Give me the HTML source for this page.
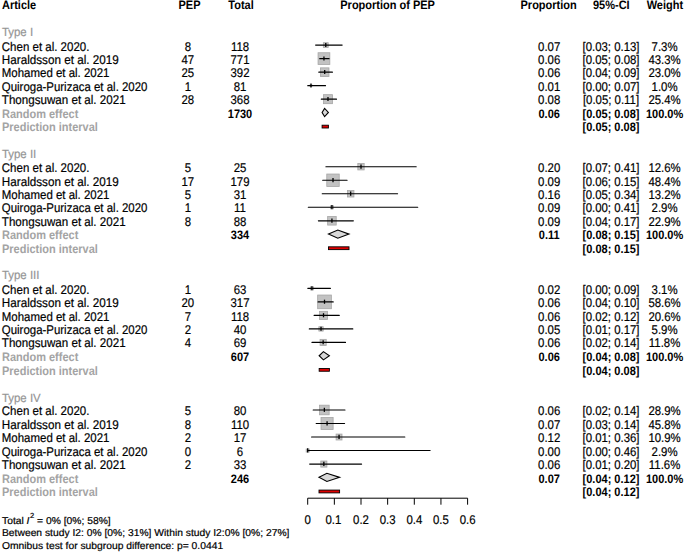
<!DOCTYPE html>
<html><head><meta charset="utf-8"><style>
html,body{margin:0;padding:0;background:#fff;}
svg{display:block;}
text{font-family:"Liberation Sans",sans-serif;text-rendering:geometricPrecision;}
</style></head><body>
<svg width="685" height="553" viewBox="0 0 685 553">
<rect width="685" height="553" fill="#fff"/>
<rect x="323.35" y="42.70" width="4.84" height="4.84" fill="#c2c2c2" stroke="#a6a6a6" stroke-width="0.8"/>
<line x1="315.62" y1="45.11" x2="342.14" y2="45.11" stroke="#000" stroke-width="1.15" stroke-linecap="round"/>
<line x1="325.77" y1="42.91" x2="325.77" y2="47.01" stroke="#000" stroke-width="1.3"/>
<rect x="318.06" y="52.74" width="11.78" height="11.78" fill="#c2c2c2" stroke="#a6a6a6" stroke-width="0.8"/>
<line x1="319.73" y1="58.63" x2="329.08" y2="58.63" stroke="#000" stroke-width="1.15" stroke-linecap="round"/>
<line x1="323.95" y1="56.43" x2="323.95" y2="60.53" stroke="#000" stroke-width="1.3"/>
<rect x="320.40" y="67.85" width="8.58" height="8.58" fill="#c2c2c2" stroke="#a6a6a6" stroke-width="0.8"/>
<line x1="318.81" y1="72.14" x2="332.41" y2="72.14" stroke="#000" stroke-width="1.15" stroke-linecap="round"/>
<line x1="324.70" y1="69.94" x2="324.70" y2="74.04" stroke="#000" stroke-width="1.3"/>
<rect x="310.10" y="84.76" width="1.79" height="1.79" fill="#c2c2c2" stroke="#a6a6a6" stroke-width="0.8"/>
<line x1="307.78" y1="85.66" x2="325.52" y2="85.66" stroke="#000" stroke-width="1.15" stroke-linecap="round"/>
<line x1="310.99" y1="83.46" x2="310.99" y2="87.56" stroke="#000" stroke-width="1.3"/>
<rect x="323.47" y="94.66" width="9.02" height="9.02" fill="#c2c2c2" stroke="#a6a6a6" stroke-width="0.8"/>
<line x1="321.33" y1="99.17" x2="336.51" y2="99.17" stroke="#000" stroke-width="1.15" stroke-linecap="round"/>
<line x1="327.98" y1="96.97" x2="327.98" y2="101.07" stroke="#000" stroke-width="1.3"/>
<polygon points="322.09,112.48 324.60,108.38 328.41,112.48 324.60,116.58" fill="#d8d8d8" stroke="#000" stroke-width="1.1"/>
<rect x="322.09" y="125.20" width="6.32" height="2.8" fill="#e00000" stroke="#000" stroke-width="0.9"/>
<rect x="357.82" y="163.56" width="6.35" height="6.35" fill="#c2c2c2" stroke="#a6a6a6" stroke-width="0.8"/>
<line x1="325.91" y1="166.74" x2="416.18" y2="166.74" stroke="#000" stroke-width="1.15" stroke-linecap="round"/>
<line x1="361.00" y1="164.54" x2="361.00" y2="168.64" stroke="#000" stroke-width="1.3"/>
<rect x="326.78" y="174.03" width="12.45" height="12.45" fill="#c2c2c2" stroke="#a6a6a6" stroke-width="0.8"/>
<line x1="322.70" y1="180.25" x2="347.06" y2="180.25" stroke="#000" stroke-width="1.15" stroke-linecap="round"/>
<line x1="333.01" y1="178.05" x2="333.01" y2="182.15" stroke="#000" stroke-width="1.3"/>
<rect x="347.43" y="190.52" width="6.50" height="6.50" fill="#c2c2c2" stroke="#a6a6a6" stroke-width="0.8"/>
<line x1="322.23" y1="193.77" x2="397.58" y2="193.77" stroke="#000" stroke-width="1.15" stroke-linecap="round"/>
<line x1="350.68" y1="191.57" x2="350.68" y2="195.67" stroke="#000" stroke-width="1.3"/>
<rect x="330.40" y="205.76" width="3.05" height="3.05" fill="#c2c2c2" stroke="#a6a6a6" stroke-width="0.8"/>
<line x1="308.31" y1="207.28" x2="417.71" y2="207.28" stroke="#000" stroke-width="1.15" stroke-linecap="round"/>
<line x1="331.93" y1="205.08" x2="331.93" y2="209.18" stroke="#000" stroke-width="1.3"/>
<rect x="327.64" y="216.51" width="8.57" height="8.57" fill="#c2c2c2" stroke="#a6a6a6" stroke-width="0.8"/>
<line x1="318.38" y1="220.80" x2="353.35" y2="220.80" stroke="#000" stroke-width="1.15" stroke-linecap="round"/>
<line x1="331.93" y1="218.60" x2="331.93" y2="222.70" stroke="#000" stroke-width="1.3"/>
<polygon points="328.49,234.11 337.81,230.01 349.01,234.11 337.81,238.21" fill="#d8d8d8" stroke="#000" stroke-width="1.1"/>
<rect x="328.49" y="246.82" width="20.52" height="2.8" fill="#e00000" stroke="#000" stroke-width="0.9"/>
<rect x="310.35" y="286.79" width="3.15" height="3.15" fill="#c2c2c2" stroke="#a6a6a6" stroke-width="0.8"/>
<line x1="307.81" y1="288.37" x2="330.43" y2="288.37" stroke="#000" stroke-width="1.15" stroke-linecap="round"/>
<line x1="311.93" y1="286.17" x2="311.93" y2="290.27" stroke="#000" stroke-width="1.3"/>
<rect x="317.66" y="295.03" width="13.70" height="13.70" fill="#c2c2c2" stroke="#a6a6a6" stroke-width="0.8"/>
<line x1="318.08" y1="301.88" x2="333.22" y2="301.88" stroke="#000" stroke-width="1.15" stroke-linecap="round"/>
<line x1="324.51" y1="299.68" x2="324.51" y2="303.78" stroke="#000" stroke-width="1.3"/>
<rect x="319.45" y="311.33" width="8.12" height="8.12" fill="#c2c2c2" stroke="#a6a6a6" stroke-width="0.8"/>
<line x1="314.14" y1="315.39" x2="339.26" y2="315.39" stroke="#000" stroke-width="1.15" stroke-linecap="round"/>
<line x1="323.51" y1="313.19" x2="323.51" y2="317.29" stroke="#000" stroke-width="1.3"/>
<rect x="318.85" y="326.73" width="4.35" height="4.35" fill="#c2c2c2" stroke="#a6a6a6" stroke-width="0.8"/>
<line x1="309.33" y1="328.91" x2="352.79" y2="328.91" stroke="#000" stroke-width="1.15" stroke-linecap="round"/>
<line x1="321.02" y1="326.71" x2="321.02" y2="330.81" stroke="#000" stroke-width="1.3"/>
<rect x="320.07" y="339.35" width="6.15" height="6.15" fill="#c2c2c2" stroke="#a6a6a6" stroke-width="0.8"/>
<line x1="311.97" y1="342.42" x2="345.50" y2="342.42" stroke="#000" stroke-width="1.15" stroke-linecap="round"/>
<line x1="323.15" y1="340.22" x2="323.15" y2="344.32" stroke="#000" stroke-width="1.3"/>
<polygon points="319.16,355.74 323.42,351.64 329.39,355.74 323.42,359.84" fill="#d8d8d8" stroke="#000" stroke-width="1.1"/>
<rect x="319.16" y="368.45" width="10.23" height="2.8" fill="#e00000" stroke="#000" stroke-width="0.9"/>
<rect x="319.54" y="405.18" width="9.62" height="9.62" fill="#c2c2c2" stroke="#a6a6a6" stroke-width="0.8"/>
<line x1="313.19" y1="409.99" x2="344.97" y2="409.99" stroke="#000" stroke-width="1.15" stroke-linecap="round"/>
<line x1="324.36" y1="407.79" x2="324.36" y2="411.89" stroke="#000" stroke-width="1.3"/>
<rect x="321.02" y="417.45" width="12.11" height="12.11" fill="#c2c2c2" stroke="#a6a6a6" stroke-width="0.8"/>
<line x1="316.21" y1="423.51" x2="344.55" y2="423.51" stroke="#000" stroke-width="1.15" stroke-linecap="round"/>
<line x1="327.08" y1="421.31" x2="327.08" y2="425.41" stroke="#000" stroke-width="1.3"/>
<rect x="336.10" y="434.07" width="5.91" height="5.91" fill="#c2c2c2" stroke="#a6a6a6" stroke-width="0.8"/>
<line x1="311.59" y1="437.02" x2="404.82" y2="437.02" stroke="#000" stroke-width="1.15" stroke-linecap="round"/>
<line x1="339.05" y1="434.82" x2="339.05" y2="438.92" stroke="#000" stroke-width="1.3"/>
<rect x="306.18" y="449.01" width="3.05" height="3.05" fill="#c2c2c2" stroke="#a6a6a6" stroke-width="0.8"/>
<line x1="307.70" y1="450.53" x2="430.09" y2="450.53" stroke="#000" stroke-width="1.15" stroke-linecap="round"/>
<line x1="307.70" y1="448.33" x2="307.70" y2="452.43" stroke="#000" stroke-width="1.3"/>
<rect x="320.80" y="461.00" width="6.10" height="6.10" fill="#c2c2c2" stroke="#a6a6a6" stroke-width="0.8"/>
<line x1="309.68" y1="464.05" x2="361.60" y2="464.05" stroke="#000" stroke-width="1.15" stroke-linecap="round"/>
<line x1="323.85" y1="461.85" x2="323.85" y2="465.95" stroke="#000" stroke-width="1.3"/>
<polygon points="319.00,477.36 326.89,473.26 339.60,477.36 326.89,481.46" fill="#d8d8d8" stroke="#000" stroke-width="1.1"/>
<rect x="319.00" y="490.08" width="20.60" height="2.8" fill="#e00000" stroke="#000" stroke-width="0.9"/>
<line x1="307.70" y1="498.2" x2="467.60" y2="498.2" stroke="#000" stroke-width="1"/>
<line x1="307.70" y1="498.2" x2="307.70" y2="504.7" stroke="#000" stroke-width="1"/>
<line x1="334.35" y1="498.2" x2="334.35" y2="504.7" stroke="#000" stroke-width="1"/>
<line x1="361.00" y1="498.2" x2="361.00" y2="504.7" stroke="#000" stroke-width="1"/>
<line x1="387.65" y1="498.2" x2="387.65" y2="504.7" stroke="#000" stroke-width="1"/>
<line x1="414.30" y1="498.2" x2="414.30" y2="504.7" stroke="#000" stroke-width="1"/>
<line x1="440.95" y1="498.2" x2="440.95" y2="504.7" stroke="#000" stroke-width="1"/>
<line x1="467.60" y1="498.2" x2="467.60" y2="504.7" stroke="#000" stroke-width="1"/>
<text transform="translate(2.00,9.00) scale(0.9016,1)" text-anchor="start" font-size="12.20" font-weight="bold" fill="#000">Article</text>
<text transform="translate(189.50,9.00) scale(0.9016,1)" text-anchor="middle" font-size="12.20" font-weight="bold" fill="#000">PEP</text>
<text transform="translate(241.00,9.00) scale(0.9016,1)" text-anchor="middle" font-size="12.20" font-weight="bold" fill="#000">Total</text>
<text transform="translate(387.60,9.00) scale(0.9016,1)" text-anchor="middle" font-size="12.20" font-weight="bold" fill="#000">Proportion of PEP</text>
<text transform="translate(548.60,9.00) scale(0.9016,1)" text-anchor="middle" font-size="12.20" font-weight="bold" fill="#000">Proportion</text>
<text transform="translate(611.30,9.00) scale(0.9016,1)" text-anchor="middle" font-size="12.20" font-weight="bold" fill="#000">95%-CI</text>
<text transform="translate(664.90,9.00) scale(0.9016,1)" text-anchor="middle" font-size="12.20" font-weight="bold" fill="#000">Weight</text>
<text transform="translate(2.00,36.00) scale(0.9500,1)" text-anchor="start" font-size="12.00" font-weight="normal" fill="#959595" stroke="#959595" stroke-width="0.2">Type I</text>
<text transform="translate(1.80,51.00) scale(0.9131,1)" text-anchor="start" font-size="12.60" font-weight="normal" fill="#000" stroke="#000" stroke-width="0.2">Chen et al. 2020.</text>
<text transform="translate(187.80,51.00) scale(0.9048,1)" text-anchor="middle" font-size="12.60" font-weight="normal" fill="#000" stroke="#000" stroke-width="0.2">8</text>
<text transform="translate(240.00,51.00) scale(0.9048,1)" text-anchor="middle" font-size="12.60" font-weight="normal" fill="#000" stroke="#000" stroke-width="0.2">118</text>
<text transform="translate(549.20,51.00) scale(0.9048,1)" text-anchor="middle" font-size="12.60" font-weight="normal" fill="#000" stroke="#000" stroke-width="0.2">0.07</text>
<text transform="translate(611.00,51.00) scale(0.9048,1)" text-anchor="middle" font-size="12.60" font-weight="normal" fill="#000" stroke="#000" stroke-width="0.2">[0.03; 0.13]</text>
<text transform="translate(664.60,51.00) scale(0.9048,1)" text-anchor="middle" font-size="12.60" font-weight="normal" fill="#000" stroke="#000" stroke-width="0.2">7.3%</text>
<text transform="translate(1.80,64.00) scale(0.9286,1)" text-anchor="start" font-size="12.60" font-weight="normal" fill="#000" stroke="#000" stroke-width="0.2">Haraldsson et al. 2019</text>
<text transform="translate(187.80,64.00) scale(0.9048,1)" text-anchor="middle" font-size="12.60" font-weight="normal" fill="#000" stroke="#000" stroke-width="0.2">47</text>
<text transform="translate(240.00,64.00) scale(0.9048,1)" text-anchor="middle" font-size="12.60" font-weight="normal" fill="#000" stroke="#000" stroke-width="0.2">771</text>
<text transform="translate(549.20,64.00) scale(0.9048,1)" text-anchor="middle" font-size="12.60" font-weight="normal" fill="#000" stroke="#000" stroke-width="0.2">0.06</text>
<text transform="translate(611.00,64.00) scale(0.9048,1)" text-anchor="middle" font-size="12.60" font-weight="normal" fill="#000" stroke="#000" stroke-width="0.2">[0.05; 0.08]</text>
<text transform="translate(664.60,64.00) scale(0.9048,1)" text-anchor="middle" font-size="12.60" font-weight="normal" fill="#000" stroke="#000" stroke-width="0.2">43.3%</text>
<text transform="translate(1.80,77.00) scale(0.9098,1)" text-anchor="start" font-size="12.60" font-weight="normal" fill="#000" stroke="#000" stroke-width="0.2">Mohamed et al. 2021</text>
<text transform="translate(187.80,77.00) scale(0.9048,1)" text-anchor="middle" font-size="12.60" font-weight="normal" fill="#000" stroke="#000" stroke-width="0.2">25</text>
<text transform="translate(240.00,77.00) scale(0.9048,1)" text-anchor="middle" font-size="12.60" font-weight="normal" fill="#000" stroke="#000" stroke-width="0.2">392</text>
<text transform="translate(549.20,77.00) scale(0.9048,1)" text-anchor="middle" font-size="12.60" font-weight="normal" fill="#000" stroke="#000" stroke-width="0.2">0.06</text>
<text transform="translate(611.00,77.00) scale(0.9048,1)" text-anchor="middle" font-size="12.60" font-weight="normal" fill="#000" stroke="#000" stroke-width="0.2">[0.04; 0.09]</text>
<text transform="translate(664.60,77.00) scale(0.9048,1)" text-anchor="middle" font-size="12.60" font-weight="normal" fill="#000" stroke="#000" stroke-width="0.2">23.0%</text>
<text transform="translate(1.80,91.00) scale(0.9085,1)" text-anchor="start" font-size="12.60" font-weight="normal" fill="#000" stroke="#000" stroke-width="0.2">Quiroga-Purizaca et al. 2020</text>
<text transform="translate(187.80,91.00) scale(0.9048,1)" text-anchor="middle" font-size="12.60" font-weight="normal" fill="#000" stroke="#000" stroke-width="0.2">1</text>
<text transform="translate(240.00,91.00) scale(0.9048,1)" text-anchor="middle" font-size="12.60" font-weight="normal" fill="#000" stroke="#000" stroke-width="0.2">81</text>
<text transform="translate(549.20,91.00) scale(0.9048,1)" text-anchor="middle" font-size="12.60" font-weight="normal" fill="#000" stroke="#000" stroke-width="0.2">0.01</text>
<text transform="translate(611.00,91.00) scale(0.9048,1)" text-anchor="middle" font-size="12.60" font-weight="normal" fill="#000" stroke="#000" stroke-width="0.2">[0.00; 0.07]</text>
<text transform="translate(664.60,91.00) scale(0.9048,1)" text-anchor="middle" font-size="12.60" font-weight="normal" fill="#000" stroke="#000" stroke-width="0.2">1.0%</text>
<text transform="translate(1.80,104.00) scale(0.9211,1)" text-anchor="start" font-size="12.60" font-weight="normal" fill="#000" stroke="#000" stroke-width="0.2">Thongsuwan et al. 2021</text>
<text transform="translate(187.80,104.00) scale(0.9048,1)" text-anchor="middle" font-size="12.60" font-weight="normal" fill="#000" stroke="#000" stroke-width="0.2">28</text>
<text transform="translate(240.00,104.00) scale(0.9048,1)" text-anchor="middle" font-size="12.60" font-weight="normal" fill="#000" stroke="#000" stroke-width="0.2">368</text>
<text transform="translate(549.20,104.00) scale(0.9048,1)" text-anchor="middle" font-size="12.60" font-weight="normal" fill="#000" stroke="#000" stroke-width="0.2">0.08</text>
<text transform="translate(611.00,104.00) scale(0.9048,1)" text-anchor="middle" font-size="12.60" font-weight="normal" fill="#000" stroke="#000" stroke-width="0.2">[0.05; 0.11]</text>
<text transform="translate(664.60,104.00) scale(0.9048,1)" text-anchor="middle" font-size="12.60" font-weight="normal" fill="#000" stroke="#000" stroke-width="0.2">25.4%</text>
<text transform="translate(2.00,118.00) scale(0.9016,1)" text-anchor="start" font-size="12.20" font-weight="bold" fill="#a4a4a4">Random effect</text>
<text transform="translate(240.00,118.00) scale(0.9016,1)" text-anchor="middle" font-size="12.20" font-weight="bold" fill="#000">1730</text>
<text transform="translate(549.20,118.00) scale(0.9016,1)" text-anchor="middle" font-size="12.20" font-weight="bold" fill="#000">0.06</text>
<text transform="translate(611.00,118.00) scale(0.9016,1)" text-anchor="middle" font-size="12.20" font-weight="bold" fill="#000">[0.05; 0.08]</text>
<text transform="translate(664.60,118.00) scale(0.9016,1)" text-anchor="middle" font-size="12.20" font-weight="bold" fill="#000">100.0%</text>
<text transform="translate(2.00,131.00) scale(0.9016,1)" text-anchor="start" font-size="12.20" font-weight="bold" fill="#a4a4a4">Prediction interval</text>
<text transform="translate(611.00,131.00) scale(0.9016,1)" text-anchor="middle" font-size="12.20" font-weight="bold" fill="#000">[0.05; 0.08]</text>
<text transform="translate(2.00,158.00) scale(0.9500,1)" text-anchor="start" font-size="12.00" font-weight="normal" fill="#959595" stroke="#959595" stroke-width="0.2">Type II</text>
<text transform="translate(1.80,172.00) scale(0.9131,1)" text-anchor="start" font-size="12.60" font-weight="normal" fill="#000" stroke="#000" stroke-width="0.2">Chen et al. 2020.</text>
<text transform="translate(187.80,172.00) scale(0.9048,1)" text-anchor="middle" font-size="12.60" font-weight="normal" fill="#000" stroke="#000" stroke-width="0.2">5</text>
<text transform="translate(240.00,172.00) scale(0.9048,1)" text-anchor="middle" font-size="12.60" font-weight="normal" fill="#000" stroke="#000" stroke-width="0.2">25</text>
<text transform="translate(549.20,172.00) scale(0.9048,1)" text-anchor="middle" font-size="12.60" font-weight="normal" fill="#000" stroke="#000" stroke-width="0.2">0.20</text>
<text transform="translate(611.00,172.00) scale(0.9048,1)" text-anchor="middle" font-size="12.60" font-weight="normal" fill="#000" stroke="#000" stroke-width="0.2">[0.07; 0.41]</text>
<text transform="translate(664.60,172.00) scale(0.9048,1)" text-anchor="middle" font-size="12.60" font-weight="normal" fill="#000" stroke="#000" stroke-width="0.2">12.6%</text>
<text transform="translate(1.80,186.00) scale(0.9286,1)" text-anchor="start" font-size="12.60" font-weight="normal" fill="#000" stroke="#000" stroke-width="0.2">Haraldsson et al. 2019</text>
<text transform="translate(187.80,186.00) scale(0.9048,1)" text-anchor="middle" font-size="12.60" font-weight="normal" fill="#000" stroke="#000" stroke-width="0.2">17</text>
<text transform="translate(240.00,186.00) scale(0.9048,1)" text-anchor="middle" font-size="12.60" font-weight="normal" fill="#000" stroke="#000" stroke-width="0.2">179</text>
<text transform="translate(549.20,186.00) scale(0.9048,1)" text-anchor="middle" font-size="12.60" font-weight="normal" fill="#000" stroke="#000" stroke-width="0.2">0.09</text>
<text transform="translate(611.00,186.00) scale(0.9048,1)" text-anchor="middle" font-size="12.60" font-weight="normal" fill="#000" stroke="#000" stroke-width="0.2">[0.06; 0.15]</text>
<text transform="translate(664.60,186.00) scale(0.9048,1)" text-anchor="middle" font-size="12.60" font-weight="normal" fill="#000" stroke="#000" stroke-width="0.2">48.4%</text>
<text transform="translate(1.80,199.00) scale(0.9098,1)" text-anchor="start" font-size="12.60" font-weight="normal" fill="#000" stroke="#000" stroke-width="0.2">Mohamed et al. 2021</text>
<text transform="translate(187.80,199.00) scale(0.9048,1)" text-anchor="middle" font-size="12.60" font-weight="normal" fill="#000" stroke="#000" stroke-width="0.2">5</text>
<text transform="translate(240.00,199.00) scale(0.9048,1)" text-anchor="middle" font-size="12.60" font-weight="normal" fill="#000" stroke="#000" stroke-width="0.2">31</text>
<text transform="translate(549.20,199.00) scale(0.9048,1)" text-anchor="middle" font-size="12.60" font-weight="normal" fill="#000" stroke="#000" stroke-width="0.2">0.16</text>
<text transform="translate(611.00,199.00) scale(0.9048,1)" text-anchor="middle" font-size="12.60" font-weight="normal" fill="#000" stroke="#000" stroke-width="0.2">[0.05; 0.34]</text>
<text transform="translate(664.60,199.00) scale(0.9048,1)" text-anchor="middle" font-size="12.60" font-weight="normal" fill="#000" stroke="#000" stroke-width="0.2">13.2%</text>
<text transform="translate(1.80,212.00) scale(0.9085,1)" text-anchor="start" font-size="12.60" font-weight="normal" fill="#000" stroke="#000" stroke-width="0.2">Quiroga-Purizaca et al. 2020</text>
<text transform="translate(187.80,212.00) scale(0.9048,1)" text-anchor="middle" font-size="12.60" font-weight="normal" fill="#000" stroke="#000" stroke-width="0.2">1</text>
<text transform="translate(240.00,212.00) scale(0.9048,1)" text-anchor="middle" font-size="12.60" font-weight="normal" fill="#000" stroke="#000" stroke-width="0.2">11</text>
<text transform="translate(549.20,212.00) scale(0.9048,1)" text-anchor="middle" font-size="12.60" font-weight="normal" fill="#000" stroke="#000" stroke-width="0.2">0.09</text>
<text transform="translate(611.00,212.00) scale(0.9048,1)" text-anchor="middle" font-size="12.60" font-weight="normal" fill="#000" stroke="#000" stroke-width="0.2">[0.00; 0.41]</text>
<text transform="translate(664.60,212.00) scale(0.9048,1)" text-anchor="middle" font-size="12.60" font-weight="normal" fill="#000" stroke="#000" stroke-width="0.2">2.9%</text>
<text transform="translate(1.80,226.00) scale(0.9211,1)" text-anchor="start" font-size="12.60" font-weight="normal" fill="#000" stroke="#000" stroke-width="0.2">Thongsuwan et al. 2021</text>
<text transform="translate(187.80,226.00) scale(0.9048,1)" text-anchor="middle" font-size="12.60" font-weight="normal" fill="#000" stroke="#000" stroke-width="0.2">8</text>
<text transform="translate(240.00,226.00) scale(0.9048,1)" text-anchor="middle" font-size="12.60" font-weight="normal" fill="#000" stroke="#000" stroke-width="0.2">88</text>
<text transform="translate(549.20,226.00) scale(0.9048,1)" text-anchor="middle" font-size="12.60" font-weight="normal" fill="#000" stroke="#000" stroke-width="0.2">0.09</text>
<text transform="translate(611.00,226.00) scale(0.9048,1)" text-anchor="middle" font-size="12.60" font-weight="normal" fill="#000" stroke="#000" stroke-width="0.2">[0.04; 0.17]</text>
<text transform="translate(664.60,226.00) scale(0.9048,1)" text-anchor="middle" font-size="12.60" font-weight="normal" fill="#000" stroke="#000" stroke-width="0.2">22.9%</text>
<text transform="translate(2.00,239.00) scale(0.9016,1)" text-anchor="start" font-size="12.20" font-weight="bold" fill="#a4a4a4">Random effect</text>
<text transform="translate(240.00,239.00) scale(0.9016,1)" text-anchor="middle" font-size="12.20" font-weight="bold" fill="#000">334</text>
<text transform="translate(549.20,239.00) scale(0.9016,1)" text-anchor="middle" font-size="12.20" font-weight="bold" fill="#000">0.11</text>
<text transform="translate(611.00,239.00) scale(0.9016,1)" text-anchor="middle" font-size="12.20" font-weight="bold" fill="#000">[0.08; 0.15]</text>
<text transform="translate(664.60,239.00) scale(0.9016,1)" text-anchor="middle" font-size="12.20" font-weight="bold" fill="#000">100.0%</text>
<text transform="translate(2.00,253.00) scale(0.9016,1)" text-anchor="start" font-size="12.20" font-weight="bold" fill="#a4a4a4">Prediction interval</text>
<text transform="translate(611.00,253.00) scale(0.9016,1)" text-anchor="middle" font-size="12.20" font-weight="bold" fill="#000">[0.08; 0.15]</text>
<text transform="translate(2.00,279.00) scale(0.9500,1)" text-anchor="start" font-size="12.00" font-weight="normal" fill="#959595" stroke="#959595" stroke-width="0.2">Type III</text>
<text transform="translate(1.80,294.00) scale(0.9131,1)" text-anchor="start" font-size="12.60" font-weight="normal" fill="#000" stroke="#000" stroke-width="0.2">Chen et al. 2020.</text>
<text transform="translate(187.80,294.00) scale(0.9048,1)" text-anchor="middle" font-size="12.60" font-weight="normal" fill="#000" stroke="#000" stroke-width="0.2">1</text>
<text transform="translate(240.00,294.00) scale(0.9048,1)" text-anchor="middle" font-size="12.60" font-weight="normal" fill="#000" stroke="#000" stroke-width="0.2">63</text>
<text transform="translate(549.20,294.00) scale(0.9048,1)" text-anchor="middle" font-size="12.60" font-weight="normal" fill="#000" stroke="#000" stroke-width="0.2">0.02</text>
<text transform="translate(611.00,294.00) scale(0.9048,1)" text-anchor="middle" font-size="12.60" font-weight="normal" fill="#000" stroke="#000" stroke-width="0.2">[0.00; 0.09]</text>
<text transform="translate(664.60,294.00) scale(0.9048,1)" text-anchor="middle" font-size="12.60" font-weight="normal" fill="#000" stroke="#000" stroke-width="0.2">3.1%</text>
<text transform="translate(1.80,307.00) scale(0.9286,1)" text-anchor="start" font-size="12.60" font-weight="normal" fill="#000" stroke="#000" stroke-width="0.2">Haraldsson et al. 2019</text>
<text transform="translate(187.80,307.00) scale(0.9048,1)" text-anchor="middle" font-size="12.60" font-weight="normal" fill="#000" stroke="#000" stroke-width="0.2">20</text>
<text transform="translate(240.00,307.00) scale(0.9048,1)" text-anchor="middle" font-size="12.60" font-weight="normal" fill="#000" stroke="#000" stroke-width="0.2">317</text>
<text transform="translate(549.20,307.00) scale(0.9048,1)" text-anchor="middle" font-size="12.60" font-weight="normal" fill="#000" stroke="#000" stroke-width="0.2">0.06</text>
<text transform="translate(611.00,307.00) scale(0.9048,1)" text-anchor="middle" font-size="12.60" font-weight="normal" fill="#000" stroke="#000" stroke-width="0.2">[0.04; 0.10]</text>
<text transform="translate(664.60,307.00) scale(0.9048,1)" text-anchor="middle" font-size="12.60" font-weight="normal" fill="#000" stroke="#000" stroke-width="0.2">58.6%</text>
<text transform="translate(1.80,321.00) scale(0.9098,1)" text-anchor="start" font-size="12.60" font-weight="normal" fill="#000" stroke="#000" stroke-width="0.2">Mohamed et al. 2021</text>
<text transform="translate(187.80,321.00) scale(0.9048,1)" text-anchor="middle" font-size="12.60" font-weight="normal" fill="#000" stroke="#000" stroke-width="0.2">7</text>
<text transform="translate(240.00,321.00) scale(0.9048,1)" text-anchor="middle" font-size="12.60" font-weight="normal" fill="#000" stroke="#000" stroke-width="0.2">118</text>
<text transform="translate(549.20,321.00) scale(0.9048,1)" text-anchor="middle" font-size="12.60" font-weight="normal" fill="#000" stroke="#000" stroke-width="0.2">0.06</text>
<text transform="translate(611.00,321.00) scale(0.9048,1)" text-anchor="middle" font-size="12.60" font-weight="normal" fill="#000" stroke="#000" stroke-width="0.2">[0.02; 0.12]</text>
<text transform="translate(664.60,321.00) scale(0.9048,1)" text-anchor="middle" font-size="12.60" font-weight="normal" fill="#000" stroke="#000" stroke-width="0.2">20.6%</text>
<text transform="translate(1.80,334.00) scale(0.9085,1)" text-anchor="start" font-size="12.60" font-weight="normal" fill="#000" stroke="#000" stroke-width="0.2">Quiroga-Purizaca et al. 2020</text>
<text transform="translate(187.80,334.00) scale(0.9048,1)" text-anchor="middle" font-size="12.60" font-weight="normal" fill="#000" stroke="#000" stroke-width="0.2">2</text>
<text transform="translate(240.00,334.00) scale(0.9048,1)" text-anchor="middle" font-size="12.60" font-weight="normal" fill="#000" stroke="#000" stroke-width="0.2">40</text>
<text transform="translate(549.20,334.00) scale(0.9048,1)" text-anchor="middle" font-size="12.60" font-weight="normal" fill="#000" stroke="#000" stroke-width="0.2">0.05</text>
<text transform="translate(611.00,334.00) scale(0.9048,1)" text-anchor="middle" font-size="12.60" font-weight="normal" fill="#000" stroke="#000" stroke-width="0.2">[0.01; 0.17]</text>
<text transform="translate(664.60,334.00) scale(0.9048,1)" text-anchor="middle" font-size="12.60" font-weight="normal" fill="#000" stroke="#000" stroke-width="0.2">5.9%</text>
<text transform="translate(1.80,347.00) scale(0.9211,1)" text-anchor="start" font-size="12.60" font-weight="normal" fill="#000" stroke="#000" stroke-width="0.2">Thongsuwan et al. 2021</text>
<text transform="translate(187.80,347.00) scale(0.9048,1)" text-anchor="middle" font-size="12.60" font-weight="normal" fill="#000" stroke="#000" stroke-width="0.2">4</text>
<text transform="translate(240.00,347.00) scale(0.9048,1)" text-anchor="middle" font-size="12.60" font-weight="normal" fill="#000" stroke="#000" stroke-width="0.2">69</text>
<text transform="translate(549.20,347.00) scale(0.9048,1)" text-anchor="middle" font-size="12.60" font-weight="normal" fill="#000" stroke="#000" stroke-width="0.2">0.06</text>
<text transform="translate(611.00,347.00) scale(0.9048,1)" text-anchor="middle" font-size="12.60" font-weight="normal" fill="#000" stroke="#000" stroke-width="0.2">[0.02; 0.14]</text>
<text transform="translate(664.60,347.00) scale(0.9048,1)" text-anchor="middle" font-size="12.60" font-weight="normal" fill="#000" stroke="#000" stroke-width="0.2">11.8%</text>
<text transform="translate(2.00,361.00) scale(0.9016,1)" text-anchor="start" font-size="12.20" font-weight="bold" fill="#a4a4a4">Random effect</text>
<text transform="translate(240.00,361.00) scale(0.9016,1)" text-anchor="middle" font-size="12.20" font-weight="bold" fill="#000">607</text>
<text transform="translate(549.20,361.00) scale(0.9016,1)" text-anchor="middle" font-size="12.20" font-weight="bold" fill="#000">0.06</text>
<text transform="translate(611.00,361.00) scale(0.9016,1)" text-anchor="middle" font-size="12.20" font-weight="bold" fill="#000">[0.04; 0.08]</text>
<text transform="translate(664.60,361.00) scale(0.9016,1)" text-anchor="middle" font-size="12.20" font-weight="bold" fill="#000">100.0%</text>
<text transform="translate(2.00,375.00) scale(0.9016,1)" text-anchor="start" font-size="12.20" font-weight="bold" fill="#a4a4a4">Prediction interval</text>
<text transform="translate(611.00,375.00) scale(0.9016,1)" text-anchor="middle" font-size="12.20" font-weight="bold" fill="#000">[0.04; 0.08]</text>
<text transform="translate(2.00,402.00) scale(0.9500,1)" text-anchor="start" font-size="12.00" font-weight="normal" fill="#959595" stroke="#959595" stroke-width="0.2">Type IV</text>
<text transform="translate(1.80,415.00) scale(0.9131,1)" text-anchor="start" font-size="12.60" font-weight="normal" fill="#000" stroke="#000" stroke-width="0.2">Chen et al. 2020.</text>
<text transform="translate(187.80,415.00) scale(0.9048,1)" text-anchor="middle" font-size="12.60" font-weight="normal" fill="#000" stroke="#000" stroke-width="0.2">5</text>
<text transform="translate(240.00,415.00) scale(0.9048,1)" text-anchor="middle" font-size="12.60" font-weight="normal" fill="#000" stroke="#000" stroke-width="0.2">80</text>
<text transform="translate(549.20,415.00) scale(0.9048,1)" text-anchor="middle" font-size="12.60" font-weight="normal" fill="#000" stroke="#000" stroke-width="0.2">0.06</text>
<text transform="translate(611.00,415.00) scale(0.9048,1)" text-anchor="middle" font-size="12.60" font-weight="normal" fill="#000" stroke="#000" stroke-width="0.2">[0.02; 0.14]</text>
<text transform="translate(664.60,415.00) scale(0.9048,1)" text-anchor="middle" font-size="12.60" font-weight="normal" fill="#000" stroke="#000" stroke-width="0.2">28.9%</text>
<text transform="translate(1.80,429.00) scale(0.9286,1)" text-anchor="start" font-size="12.60" font-weight="normal" fill="#000" stroke="#000" stroke-width="0.2">Haraldsson et al. 2019</text>
<text transform="translate(187.80,429.00) scale(0.9048,1)" text-anchor="middle" font-size="12.60" font-weight="normal" fill="#000" stroke="#000" stroke-width="0.2">8</text>
<text transform="translate(240.00,429.00) scale(0.9048,1)" text-anchor="middle" font-size="12.60" font-weight="normal" fill="#000" stroke="#000" stroke-width="0.2">110</text>
<text transform="translate(549.20,429.00) scale(0.9048,1)" text-anchor="middle" font-size="12.60" font-weight="normal" fill="#000" stroke="#000" stroke-width="0.2">0.07</text>
<text transform="translate(611.00,429.00) scale(0.9048,1)" text-anchor="middle" font-size="12.60" font-weight="normal" fill="#000" stroke="#000" stroke-width="0.2">[0.03; 0.14]</text>
<text transform="translate(664.60,429.00) scale(0.9048,1)" text-anchor="middle" font-size="12.60" font-weight="normal" fill="#000" stroke="#000" stroke-width="0.2">45.8%</text>
<text transform="translate(1.80,442.00) scale(0.9098,1)" text-anchor="start" font-size="12.60" font-weight="normal" fill="#000" stroke="#000" stroke-width="0.2">Mohamed et al. 2021</text>
<text transform="translate(187.80,442.00) scale(0.9048,1)" text-anchor="middle" font-size="12.60" font-weight="normal" fill="#000" stroke="#000" stroke-width="0.2">2</text>
<text transform="translate(240.00,442.00) scale(0.9048,1)" text-anchor="middle" font-size="12.60" font-weight="normal" fill="#000" stroke="#000" stroke-width="0.2">17</text>
<text transform="translate(549.20,442.00) scale(0.9048,1)" text-anchor="middle" font-size="12.60" font-weight="normal" fill="#000" stroke="#000" stroke-width="0.2">0.12</text>
<text transform="translate(611.00,442.00) scale(0.9048,1)" text-anchor="middle" font-size="12.60" font-weight="normal" fill="#000" stroke="#000" stroke-width="0.2">[0.01; 0.36]</text>
<text transform="translate(664.60,442.00) scale(0.9048,1)" text-anchor="middle" font-size="12.60" font-weight="normal" fill="#000" stroke="#000" stroke-width="0.2">10.9%</text>
<text transform="translate(1.80,456.00) scale(0.9085,1)" text-anchor="start" font-size="12.60" font-weight="normal" fill="#000" stroke="#000" stroke-width="0.2">Quiroga-Purizaca et al. 2020</text>
<text transform="translate(187.80,456.00) scale(0.9048,1)" text-anchor="middle" font-size="12.60" font-weight="normal" fill="#000" stroke="#000" stroke-width="0.2">0</text>
<text transform="translate(240.00,456.00) scale(0.9048,1)" text-anchor="middle" font-size="12.60" font-weight="normal" fill="#000" stroke="#000" stroke-width="0.2">6</text>
<text transform="translate(549.20,456.00) scale(0.9048,1)" text-anchor="middle" font-size="12.60" font-weight="normal" fill="#000" stroke="#000" stroke-width="0.2">0.00</text>
<text transform="translate(611.00,456.00) scale(0.9048,1)" text-anchor="middle" font-size="12.60" font-weight="normal" fill="#000" stroke="#000" stroke-width="0.2">[0.00; 0.46]</text>
<text transform="translate(664.60,456.00) scale(0.9048,1)" text-anchor="middle" font-size="12.60" font-weight="normal" fill="#000" stroke="#000" stroke-width="0.2">2.9%</text>
<text transform="translate(1.80,469.00) scale(0.9211,1)" text-anchor="start" font-size="12.60" font-weight="normal" fill="#000" stroke="#000" stroke-width="0.2">Thongsuwan et al. 2021</text>
<text transform="translate(187.80,469.00) scale(0.9048,1)" text-anchor="middle" font-size="12.60" font-weight="normal" fill="#000" stroke="#000" stroke-width="0.2">2</text>
<text transform="translate(240.00,469.00) scale(0.9048,1)" text-anchor="middle" font-size="12.60" font-weight="normal" fill="#000" stroke="#000" stroke-width="0.2">33</text>
<text transform="translate(549.20,469.00) scale(0.9048,1)" text-anchor="middle" font-size="12.60" font-weight="normal" fill="#000" stroke="#000" stroke-width="0.2">0.06</text>
<text transform="translate(611.00,469.00) scale(0.9048,1)" text-anchor="middle" font-size="12.60" font-weight="normal" fill="#000" stroke="#000" stroke-width="0.2">[0.01; 0.20]</text>
<text transform="translate(664.60,469.00) scale(0.9048,1)" text-anchor="middle" font-size="12.60" font-weight="normal" fill="#000" stroke="#000" stroke-width="0.2">11.6%</text>
<text transform="translate(2.00,483.00) scale(0.9016,1)" text-anchor="start" font-size="12.20" font-weight="bold" fill="#a4a4a4">Random effect</text>
<text transform="translate(240.00,483.00) scale(0.9016,1)" text-anchor="middle" font-size="12.20" font-weight="bold" fill="#000">246</text>
<text transform="translate(549.20,483.00) scale(0.9016,1)" text-anchor="middle" font-size="12.20" font-weight="bold" fill="#000">0.07</text>
<text transform="translate(611.00,483.00) scale(0.9016,1)" text-anchor="middle" font-size="12.20" font-weight="bold" fill="#000">[0.04; 0.12]</text>
<text transform="translate(664.60,483.00) scale(0.9016,1)" text-anchor="middle" font-size="12.20" font-weight="bold" fill="#000">100.0%</text>
<text transform="translate(2.00,496.00) scale(0.9016,1)" text-anchor="start" font-size="12.20" font-weight="bold" fill="#a4a4a4">Prediction interval</text>
<text transform="translate(611.00,496.00) scale(0.9016,1)" text-anchor="middle" font-size="12.20" font-weight="bold" fill="#000">[0.04; 0.12]</text>
<text transform="translate(307.70,524.00) scale(0.9048,1)" text-anchor="middle" font-size="12.60" font-weight="normal" fill="#000" stroke="#000" stroke-width="0.2">0</text>
<text transform="translate(333.35,524.00) scale(0.9048,1)" text-anchor="middle" font-size="12.60" font-weight="normal" fill="#000" stroke="#000" stroke-width="0.2">0.1</text>
<text transform="translate(361.00,524.00) scale(0.9048,1)" text-anchor="middle" font-size="12.60" font-weight="normal" fill="#000" stroke="#000" stroke-width="0.2">0.2</text>
<text transform="translate(387.65,524.00) scale(0.9048,1)" text-anchor="middle" font-size="12.60" font-weight="normal" fill="#000" stroke="#000" stroke-width="0.2">0.3</text>
<text transform="translate(414.30,524.00) scale(0.9048,1)" text-anchor="middle" font-size="12.60" font-weight="normal" fill="#000" stroke="#000" stroke-width="0.2">0.4</text>
<text transform="translate(440.95,524.00) scale(0.9048,1)" text-anchor="middle" font-size="12.60" font-weight="normal" fill="#000" stroke="#000" stroke-width="0.2">0.5</text>
<text transform="translate(467.60,524.00) scale(0.9048,1)" text-anchor="middle" font-size="12.60" font-weight="normal" fill="#000" stroke="#000" stroke-width="0.2">0.6</text>
<text transform="translate(2.00,524.00) scale(1.0300,1)" text-anchor="start" font-size="10.00" font-weight="normal" fill="#000" stroke="#000" stroke-width="0.2">Total <tspan font-style="italic">I</tspan><tspan font-size="7.4" dy="-5.8" dx="0.5">2</tspan><tspan dy="5.8"> = 0% [0%; 58%]</tspan></text>
<text transform="translate(2.00,536.00) scale(1.0300,1)" text-anchor="start" font-size="10.00" font-weight="normal" fill="#000" stroke="#000" stroke-width="0.2">Between study I2: 0% [0%; 31%] Within study I2:0% [0%; 27%]</text>
<text transform="translate(2.00,549.00) scale(1.0300,1)" text-anchor="start" font-size="10.00" font-weight="normal" fill="#000" stroke="#000" stroke-width="0.2">Omnibus test for subgroup difference: p= 0.0441</text>
</svg>
</body></html>
